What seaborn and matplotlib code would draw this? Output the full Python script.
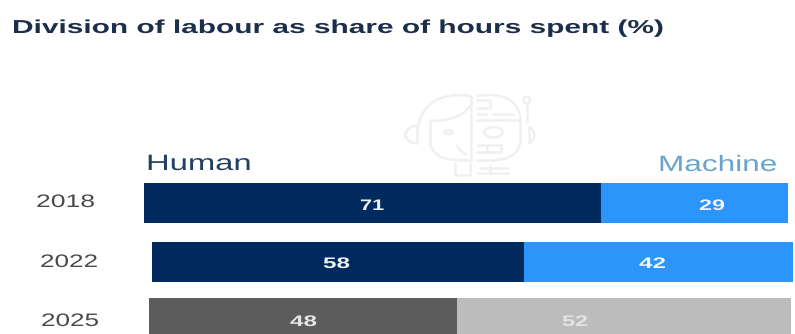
import matplotlib
matplotlib.use("Agg")
import matplotlib.pyplot as plt
from matplotlib.patches import Ellipse, PathPatch
from matplotlib.path import Path
from matplotlib.patheffects import AbstractPathEffect
from matplotlib.transforms import Affine2D
import pandas as pd
import seaborn as sns

years = ["2018", "2022", "2025"]
human = [71, 58, 48]
machine = [29, 42, 52]
human_colors = ["#012a5e", "#012a5e", "#5c5c5c"]
machine_colors = ["#2b95fb", "#2b95fb", "#bcbcbc"]

W, H = 795, 334
# Pixel extents of each row: left, right, top, bottom
rows = [(144, 788, 183, 223), (152, 793, 242, 282), (149, 791, 298, 338)]
# Pixel extents and baselines of the year labels and the value labels
year_boxes = [(36, 95, 207), (40, 98, 267), (41, 99, 326)]
human_boxes = [(360, 384, 210), (323, 350, 268), (290, 317, 326)]
machine_boxes = [(699, 725, 210), (639, 666, 268), (562, 588, 326)]

sns.set_theme(style="white")
plt.rcParams["font.family"] = ["Liberation Sans"]

fig = plt.figure(figsize=(W / 100, H / 100), dpi=100, facecolor="white")
renderer = fig.canvas.get_renderer()


def pixel_axes(zorder):
    a = fig.add_axes([0, 0, 1, 1], zorder=zorder)
    a.set_xlim(0, W)
    a.set_ylim(H, 0)
    a.axis("off")
    a.patch.set_alpha(0)
    return a


under = pixel_axes(0)
over = pixel_axes(5)

ICON = "#f0f0f0"


class WidenX(AbstractPathEffect):
    """Scale glyph outlines horizontally about a fixed display x."""

    def __init__(self, factor, x0):
        super().__init__()
        self.factor = factor
        self.x0 = x0

    def draw_path(self, renderer, gc, tpath, affine, rgbFace=None):
        widen = Affine2D().translate(-self.x0, 0).scale(self.factor, 1).translate(self.x0, 0)
        renderer.draw_path(gc, tpath, affine + widen, rgbFace)


def fitted_text(x0, x1, baseline, string, size, color, weight="normal"):
    t = over.text(x0, baseline, string, fontsize=size, color=color, fontweight=weight,
                  ha="left", va="baseline")
    width = t.get_window_extent(renderer).width
    t.set_path_effects([WidenX((x1 - x0) / width, x0)])
    return t


def pt(x, y):
    return 380 + x / 3, 80 + y / 3


def stroke(*pts):
    xs, ys = zip(*[pt(*p) for p in pts])
    under.plot(xs, ys, color=ICON, lw=1.8, solid_capstyle="round")


def curve(a, ctrl, b):
    path = Path([pt(*a), pt(*ctrl), pt(*b)], [Path.MOVETO, Path.CURVE3, Path.CURVE3])
    under.add_patch(PathPatch(path, fc="none", ec=ICON, lw=1.8))


def oval(x, y, w, h):
    under.add_patch(Ellipse(pt(x, y), w / 3, h / 3, fc="none", ec=ICON, lw=1.8))


# Left (human) half of the face
curve((272, 48), (130, 30), (112, 150))
stroke((150, 122), (150, 190))
curve((150, 190), (160, 238), (230, 240))
stroke((230, 240), (272, 240))
curve((150, 122), (240, 125), (272, 75))
stroke((272, 48), (272, 240))
curve((75, 165), (85, 135), (112, 138))
curve((75, 165), (85, 192), (112, 190))
stroke((112, 138), (112, 190))
oval(205, 157, 24, 12)
curve((230, 195), (240, 215), (262, 225))
stroke((225, 250), (225, 285), (270, 285), (270, 250))

# Right (machine) half of the face
curve((290, 48), (405, 30), (420, 110))
stroke((420, 110), (420, 190))
curve((420, 190), (410, 238), (345, 240))
stroke((345, 240), (290, 240))
curve((448, 140), (478, 165), (448, 190))
stroke((448, 140), (448, 190))
stroke((440, 72), (440, 125))
oval(440, 60, 20, 20)
oval(340, 157, 55, 32)
stroke((290, 195), (362, 195), (362, 215), (290, 215))
stroke((320, 195), (320, 215))
stroke((290, 60), (330, 60), (330, 85), (290, 85))
stroke((290, 120), (420, 120))
stroke((290, 102), (320, 102))
stroke((340, 102), (400, 102))
stroke((290, 280), (385, 280))
stroke((300, 265), (385, 265))
stroke((330, 255), (330, 280))

fitted_text(12, 663, 33, "Division of labour as share of hours spent (%)", 13.5, "#1c2e4a", "bold")
fitted_text(146, 252, 170, "Human", 16, "#24405f")
fitted_text(658, 778, 171, "Machine", 16, "#6aa3cc")

for i, year in enumerate(years):
    x0, x1, y0, y1 = rows[i]
    ax = fig.add_axes([x0 / W, 1 - y1 / H, (x1 - x0) / W, (y1 - y0) / H], zorder=2)
    row = pd.DataFrame({"year": [year], "human": [human[i]], "machine": [machine[i]]})
    sns.barplot(data=row, x="human", y="year", color=human_colors[i], width=1.0,
                saturation=1, ax=ax, linewidth=0)
    sns.barplot(data=row, x="machine", y="year", left=row["human"], color=machine_colors[i],
                width=1.0, saturation=1, ax=ax, linewidth=0)
    ax.set_xlim(0, 100)
    ax.axis("off")

    fitted_text(*year_boxes[i], year, 13, "#4a4a4a")
    fitted_text(*human_boxes[i], str(human[i]), 11, "#e4e4e4" if i == 2 else "#f0f3f6", "bold")
    fitted_text(*machine_boxes[i], str(machine[i]), 11, "#e4e4e4" if i == 2 else "#eef4fa", "bold")

fig.savefig("out.png", dpi=100, facecolor="white")
